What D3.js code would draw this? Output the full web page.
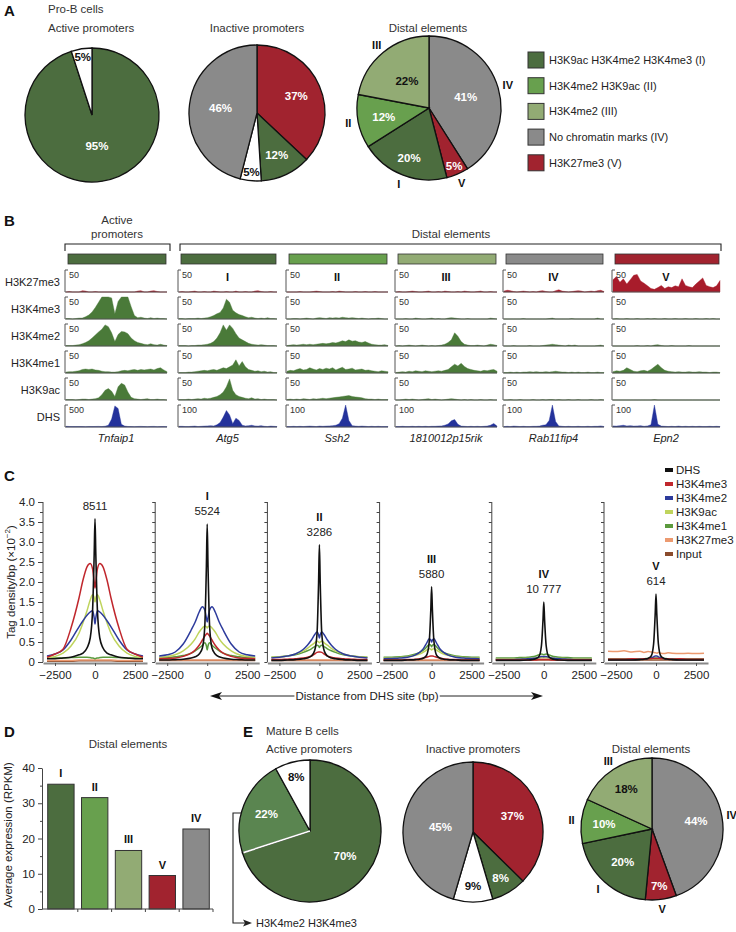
<!DOCTYPE html>
<html><head><meta charset="utf-8">
<script src="https://cdn.jsdelivr.net/npm/d3@7/dist/d3.min.js"></script>
<style>
html,body{margin:0;padding:0;background:#fff;}
svg{display:block;font-family:"Liberation Sans",Arial,Helvetica,sans-serif;}
</style></head><body>
<svg id="fig" width="736" height="932"></svg>
<script>
// ================= DATA =================
// Panels A and E: pie charts
const legendKeys = ["I","II","III","IV","V"];
const legendLabels = ["H3K9ac H3K4me2 H3K4me3 (I)","H3K4me2 H3K9ac (II)","H3K4me2 (III)","No chromatin marks (IV)","H3K27me3 (V)"];
const proBActiveKeys = ["I","none"];
const proBActiveValues = [95,5];
const proBInactiveKeys = ["V","I","none","IV"];
const proBInactiveValues = [37,12,5,46];
const proBDistalKeys = ["IV","V","I","II","III"];
const proBDistalValues = [41,5,20,12,22];
const matureActiveKeys = ["I","Ib","none"];
const matureActiveValues = [70,22,8];
const matureInactiveKeys = ["V","I","none","IV"];
const matureInactiveValues = [37,8,9,45];
const matureDistalKeys = ["IV","V","I","II","III"];
const matureDistalValues = [44,7,20,10,18];

// Panel B: genome browser tracks (tags per bin), rows in trackRows order
const trackRows = ["H3K27me3","H3K4me3","H3K4me2","H3K4me1","H3K9ac","DHS"];
const trackGenes = ["Tnfaip1","Atg5","Ssh2","1810012p15rik","Rab11fip4","Epn2"];
const trackGroups = ["I","I","II","III","IV","V"];
const trackRomans = ["","I","II","III","IV","V"];
const trackScaleHistone = [50,50,50,50,50,50];
const trackScaleDHS = [500,100,100,100,100,100];
const tnfaip1Tracks = [
 [0,1,0,0,0,3,2,0,0,1,0,0,0,0,0,0,0,0,0,0,0,0,2,3,0,0,2,3,1,0,0,0],
 [1,1,0,1,2,2,5,9,16,26,38,50,50,50,48,12,40,50,50,50,28,8,3,4,2,1,3,1,2,1,1,0],
 [1,1,1,2,3,5,8,12,18,25,32,38,48,44,30,10,26,33,32,28,18,12,8,6,4,3,5,3,2,4,2,1],
 [2,3,3,4,5,8,9,8,9,7,6,4,3,3,2,2,3,5,6,5,7,8,6,8,7,8,9,7,10,12,7,3],
 [1,1,1,0,1,2,2,1,2,3,5,12,22,26,20,8,30,38,34,18,6,3,2,1,2,3,1,1,2,1,1,0],
 [15,12,10,10,12,10,8,12,10,12,14,10,18,40,180,480,420,60,20,12,10,8,12,14,10,8,12,14,8,10,12,8]
];
const atg5Tracks = [
 [0,1,0,0,1,2,0,0,1,0,0,2,1,0,0,1,0,0,2,0,0,1,0,0,2,3,1,0,0,1,0,0],
 [1,1,0,1,1,1,2,1,2,3,5,8,12,15,25,45,38,20,14,10,8,5,3,4,2,1,2,1,3,1,1,0],
 [1,1,1,0,1,1,2,2,3,4,6,10,18,30,48,36,48,40,28,18,14,10,6,4,3,2,3,2,1,1,1,0],
 [1,1,1,2,2,3,4,5,6,5,7,8,6,9,12,10,14,18,30,16,26,14,8,6,4,5,3,4,2,3,1,1],
 [1,1,1,2,1,2,3,2,4,3,4,6,8,12,18,30,48,22,12,8,6,4,3,5,2,3,1,2,1,1,1,0],
 [3,3,2,2,3,4,2,3,4,5,6,5,10,20,45,75,55,15,40,30,8,5,6,8,5,4,6,3,2,4,3,2]
];
const ssh2Tracks = [
 [0,0,0,0,1,0,0,0,1,2,1,0,0,0,1,0,2,1,0,0,0,1,0,0,1,0,0,1,0,0,0,0],
 [0,0,1,1,0,1,2,1,0,2,3,2,1,3,2,3,2,4,3,2,3,2,1,2,1,0,1,1,2,1,0,0],
 [1,2,3,2,3,4,3,4,3,4,5,6,5,6,8,7,9,12,10,14,11,12,9,8,10,7,4,3,2,2,3,1],
 [4,6,5,8,10,7,8,12,9,7,10,8,11,9,12,7,10,13,8,9,11,7,8,9,6,7,5,4,3,5,4,3],
 [1,2,1,2,1,3,2,1,3,2,3,4,3,4,5,6,7,8,9,10,8,7,6,5,3,2,2,1,2,1,1,1],
 [2,2,3,2,3,2,3,4,3,2,4,3,4,5,6,8,15,40,100,30,6,4,3,4,3,2,3,2,3,2,2,2]
];
const rikTracks = [
 [0,1,0,0,1,2,1,0,0,1,2,0,0,1,0,2,1,0,0,1,0,2,1,0,0,1,2,0,0,1,0,0],
 [0,0,0,1,0,0,2,1,0,0,1,2,0,1,0,0,2,3,2,1,0,0,1,0,0,0,0,0,0,2,1,0],
 [0,1,0,1,2,1,0,1,2,1,0,1,0,1,2,4,8,14,30,22,10,4,2,1,1,2,1,0,2,4,3,1],
 [1,2,3,2,4,3,5,4,3,5,4,3,4,5,4,6,8,14,20,16,22,15,10,8,6,5,4,6,5,7,8,4],
 [0,0,1,2,1,2,1,0,1,2,3,1,2,1,0,1,2,3,2,1,0,1,0,1,0,0,1,0,0,1,0,0],
 [2,2,3,2,2,3,2,3,2,3,2,3,3,4,5,8,14,28,34,12,4,3,2,3,2,3,2,3,4,8,16,4]
];
const rab11fip4Tracks = [
 [2,4,3,1,0,1,2,1,0,1,0,2,3,1,0,0,3,5,2,1,0,1,2,3,2,0,1,2,1,3,4,1],
 [0,0,0,0,0,0,1,0,0,0,0,0,0,0,1,2,0,0,0,0,0,1,0,0,0,0,0,0,0,2,0,0],
 [0,0,0,1,0,0,0,0,1,0,0,0,1,2,3,4,3,2,1,0,2,1,2,0,0,0,0,0,0,1,2,0],
 [1,1,2,1,2,1,2,2,3,2,3,2,2,3,2,3,4,3,2,2,1,2,1,2,1,1,2,1,1,2,1,1],
 [0,0,1,0,0,1,0,0,0,1,0,0,1,0,1,1,0,1,0,0,1,0,0,1,0,0,0,1,0,0,1,0],
 [2,3,2,4,3,2,3,2,2,3,3,4,8,10,30,100,25,5,3,2,3,2,2,3,2,2,3,2,3,3,5,2]
];
const epn2Tracks = [
 [28,35,22,30,18,28,38,40,25,20,14,8,6,10,15,8,12,10,14,12,30,15,12,10,18,25,32,15,12,10,14,26],
 [0,1,0,0,1,0,0,1,0,0,1,0,1,0,0,1,0,0,1,0,0,1,0,0,1,0,0,1,0,1,0,0],
 [0,0,0,0,0,0,0,1,0,0,1,0,2,3,1,0,0,1,0,0,0,0,1,0,0,0,0,0,0,0,0,0],
 [3,5,4,6,12,8,4,3,5,6,4,8,14,20,12,6,4,3,2,3,2,2,3,2,2,3,2,2,1,2,2,1],
 [0,0,0,0,0,0,0,0,0,0,0,0,1,0,0,0,0,0,0,0,0,0,0,0,0,0,0,0,0,0,0,0],
 [5,4,6,8,5,6,4,5,6,3,5,10,100,12,4,3,2,3,2,4,2,3,2,3,2,3,2,2,3,2,3,2]
];

// Panel C: aggregate tag density profiles (x10^-2 per bp), series order = profileSeries
const profilePositions = [-3000,-2500,-2000,-1500,-1000,-750,-500,-300,-150,-50,0,50,150,300,500,750,1000,1500,2000,2500,3000];
const profileSeries = ["DHS","H3K4me3","H3K4me2","H3K9ac","H3K4me1","H3K27me3","Input"];
const profileGroups = ["","I","II","III","IV","V"];
const profileCounts = ["8511","5524","3286","5880","10 777","614"];
const profActive = [
 [0.08,0.08,0.10,0.12,0.18,0.22,0.35,0.60,1.30,2.70,3.58,2.70,1.30,0.60,0.35,0.22,0.18,0.12,0.10,0.08,0.08],
 [0.12,0.20,0.32,0.85,1.60,2.05,2.38,2.46,2.32,2.00,1.85,2.00,2.32,2.46,2.38,2.05,1.60,0.85,0.32,0.20,0.12],
 [0.15,0.20,0.30,0.55,0.88,1.03,1.17,1.25,1.28,1.10,0.95,1.10,1.28,1.25,1.17,1.03,0.88,0.55,0.30,0.20,0.15],
 [0.10,0.14,0.22,0.40,0.72,0.98,1.28,1.55,1.68,1.60,1.50,1.60,1.68,1.55,1.28,0.98,0.72,0.40,0.22,0.14,0.10],
 [0.10,0.10,0.10,0.11,0.12,0.12,0.12,0.11,0.10,0.09,0.08,0.09,0.10,0.11,0.12,0.12,0.12,0.11,0.10,0.10,0.10],
 [0.04,0.04,0.04,0.04,0.05,0.05,0.05,0.05,0.05,0.05,0.05,0.05,0.05,0.05,0.05,0.05,0.05,0.04,0.04,0.04,0.04],
 [0.02,0.02,0.02,0.02,0.03,0.03,0.03,0.03,0.03,0.03,0.03,0.03,0.03,0.03,0.03,0.03,0.03,0.02,0.02,0.02,0.02]
];
const profI = [
 [0.05,0.05,0.06,0.07,0.10,0.13,0.20,0.35,0.90,2.40,3.45,2.40,0.90,0.35,0.20,0.13,0.10,0.07,0.06,0.05,0.05],
 [0.08,0.09,0.10,0.14,0.22,0.30,0.42,0.55,0.65,0.70,0.72,0.70,0.65,0.55,0.42,0.30,0.22,0.14,0.10,0.09,0.08],
 [0.15,0.18,0.25,0.45,0.80,1.00,1.25,1.38,1.30,1.10,1.00,1.10,1.30,1.38,1.25,1.00,0.80,0.45,0.25,0.18,0.15],
 [0.12,0.14,0.18,0.28,0.45,0.58,0.75,0.85,0.90,0.88,0.85,0.88,0.90,0.85,0.75,0.58,0.45,0.28,0.18,0.14,0.12],
 [0.10,0.11,0.13,0.16,0.22,0.28,0.35,0.42,0.48,0.40,0.30,0.40,0.48,0.42,0.35,0.28,0.22,0.16,0.13,0.11,0.10],
 [0.05,0.05,0.05,0.05,0.05,0.05,0.05,0.05,0.05,0.05,0.05,0.05,0.05,0.05,0.05,0.05,0.05,0.05,0.05,0.05,0.05],
 [0.04,0.04,0.04,0.04,0.04,0.04,0.04,0.04,0.04,0.04,0.04,0.04,0.04,0.04,0.04,0.04,0.04,0.04,0.04,0.04,0.04]
];
const profII = [
 [0.04,0.04,0.05,0.06,0.08,0.10,0.15,0.28,0.70,2.00,2.93,2.00,0.70,0.28,0.15,0.10,0.08,0.06,0.05,0.04,0.04],
 [0.06,0.06,0.07,0.08,0.10,0.12,0.15,0.20,0.24,0.25,0.25,0.25,0.24,0.20,0.15,0.12,0.10,0.08,0.07,0.06,0.06],
 [0.10,0.12,0.15,0.20,0.32,0.42,0.55,0.68,0.75,0.68,0.60,0.68,0.75,0.68,0.55,0.42,0.32,0.20,0.15,0.12,0.10],
 [0.12,0.13,0.15,0.20,0.28,0.34,0.42,0.48,0.52,0.50,0.48,0.50,0.52,0.48,0.42,0.34,0.28,0.20,0.15,0.13,0.12],
 [0.12,0.13,0.15,0.18,0.24,0.28,0.33,0.38,0.42,0.40,0.36,0.40,0.42,0.38,0.33,0.28,0.24,0.18,0.15,0.13,0.12],
 [0.05,0.05,0.05,0.05,0.05,0.05,0.05,0.05,0.05,0.05,0.05,0.05,0.05,0.05,0.05,0.05,0.05,0.05,0.05,0.05,0.05],
 [0.04,0.04,0.04,0.04,0.04,0.04,0.04,0.04,0.04,0.04,0.04,0.04,0.04,0.04,0.04,0.04,0.04,0.04,0.04,0.04,0.04]
];
const profIII = [
 [0.04,0.04,0.04,0.05,0.06,0.07,0.10,0.18,0.50,1.30,1.88,1.30,0.50,0.18,0.10,0.07,0.06,0.05,0.04,0.04,0.04],
 [0.05,0.05,0.05,0.06,0.07,0.08,0.10,0.12,0.14,0.15,0.15,0.15,0.14,0.12,0.10,0.08,0.07,0.06,0.05,0.05,0.05],
 [0.08,0.09,0.10,0.12,0.18,0.24,0.34,0.48,0.58,0.55,0.50,0.55,0.58,0.48,0.34,0.24,0.18,0.12,0.10,0.09,0.08],
 [0.10,0.10,0.11,0.13,0.17,0.20,0.25,0.30,0.33,0.32,0.30,0.32,0.33,0.30,0.25,0.20,0.17,0.13,0.11,0.10,0.10],
 [0.12,0.12,0.13,0.15,0.20,0.24,0.30,0.38,0.44,0.42,0.38,0.42,0.44,0.38,0.30,0.24,0.20,0.15,0.13,0.12,0.12],
 [0.05,0.05,0.05,0.05,0.05,0.05,0.05,0.05,0.05,0.05,0.05,0.05,0.05,0.05,0.05,0.05,0.05,0.05,0.05,0.05,0.05],
 [0.04,0.04,0.04,0.04,0.04,0.04,0.04,0.04,0.04,0.04,0.04,0.04,0.04,0.04,0.04,0.04,0.04,0.04,0.04,0.04,0.04]
];
const profIV = [
 [0.04,0.04,0.04,0.04,0.05,0.06,0.08,0.14,0.40,1.05,1.50,1.05,0.40,0.14,0.08,0.06,0.05,0.04,0.04,0.04,0.04],
 [0.05,0.05,0.05,0.05,0.05,0.05,0.05,0.06,0.06,0.06,0.06,0.06,0.06,0.06,0.05,0.05,0.05,0.05,0.05,0.05,0.05],
 [0.06,0.06,0.06,0.07,0.08,0.09,0.10,0.12,0.14,0.14,0.13,0.14,0.14,0.12,0.10,0.09,0.08,0.07,0.06,0.06,0.06],
 [0.08,0.08,0.08,0.08,0.09,0.09,0.10,0.10,0.11,0.11,0.11,0.11,0.11,0.10,0.10,0.09,0.09,0.08,0.08,0.08,0.08],
 [0.10,0.10,0.10,0.11,0.12,0.13,0.15,0.18,0.20,0.19,0.18,0.19,0.20,0.18,0.15,0.13,0.12,0.11,0.10,0.10,0.10],
 [0.06,0.06,0.06,0.06,0.06,0.06,0.06,0.06,0.06,0.06,0.06,0.06,0.06,0.06,0.06,0.06,0.06,0.06,0.06,0.06,0.06],
 [0.05,0.05,0.05,0.05,0.05,0.05,0.05,0.05,0.05,0.05,0.05,0.05,0.05,0.05,0.05,0.05,0.05,0.05,0.05,0.05,0.05]
];
const profV = [
 [0.05,0.05,0.05,0.05,0.06,0.07,0.09,0.15,0.45,1.20,1.70,1.20,0.45,0.15,0.09,0.07,0.06,0.05,0.05,0.05,0.05],
 [0.07,0.07,0.07,0.08,0.07,0.08,0.08,0.08,0.09,0.09,0.09,0.09,0.09,0.08,0.08,0.08,0.07,0.08,0.07,0.07,0.07],
 [0.06,0.06,0.06,0.06,0.07,0.07,0.08,0.10,0.13,0.15,0.15,0.15,0.13,0.10,0.08,0.07,0.07,0.06,0.06,0.06,0.06],
 [0.07,0.07,0.07,0.07,0.07,0.07,0.07,0.08,0.08,0.08,0.08,0.08,0.08,0.08,0.07,0.07,0.07,0.07,0.07,0.07,0.07],
 [0.08,0.08,0.08,0.08,0.08,0.08,0.09,0.09,0.10,0.10,0.10,0.10,0.10,0.09,0.09,0.08,0.08,0.08,0.08,0.08,0.08],
 [0.27,0.26,0.28,0.25,0.27,0.24,0.26,0.25,0.24,0.23,0.23,0.22,0.24,0.22,0.21,0.23,0.22,0.21,0.22,0.21,0.22],
 [0.05,0.05,0.05,0.05,0.05,0.05,0.05,0.05,0.05,0.05,0.05,0.05,0.05,0.05,0.05,0.05,0.05,0.05,0.05,0.05,0.05]
];
const profileXTicks = [-2500,0,2500];
const profileYTicks = [0,0.5,1,1.5,2,2.5,3,3.5,4];

// Panel D: average expression
const dCategories = ["I","II","III","V","IV"];
const dValues = [35.4,31.6,16.6,9.5,22.7];
const dYTicks = [0,10,20,30,40];

// ================= STYLE =================
const col = {I:"#4c6d3f", Ib:"#5a8550", II:"#68a04e", III:"#92ab74", IV:"#8a8a8a", V:"#a1232f", none:"#ffffff"};
const seriesColor = {DHS:"#111111", H3K4me3:"#c0272d", H3K4me2:"#2d3b9c", H3K9ac:"#bfd45c", H3K4me1:"#5b9a3e", H3K27me3:"#ec9a70", Input:"#8a4b2c"};
const trackColor = {histone:"#4a7a39", H3K27me3:"#a81c2b", DHS:"#24329b"};
const ink = "#222";

const svg = d3.select("#fig");

function txt(g, x, y, s, o = {}) {
  const t = g.append("text").attr("x", x).attr("y", y).text(s)
    .attr("font-size", o.size || 11.5).attr("fill", o.fill || ink)
    .attr("text-anchor", o.anchor || "start");
  if (o.bold) t.attr("font-weight", "bold");
  if (o.italic) t.attr("font-style", "italic");
  if (o.mid) t.attr("dominant-baseline", "central");
  return t;
}

// ================= PANEL LETTERS =================
[["A",4,16],["B",4,226],["C",4,481],["D",4,737],["E",243,737]].forEach(([l,x,y]) =>
  txt(svg, x, y, l, {size: 15, bold: true, fill: "#111"}));

// ================= PIES =================
function drawPie(p) {
  const data = p.keys.map((k, i) => ({k, v: p.values[i], f: p.lf[i]}));
  const arcs = d3.pie().sort(null).value(d => d.v)(data);
  const arc = d3.arc().innerRadius(0).outerRadius(p.r);
  const g = svg.append("g").attr("transform", `translate(${p.cx},${p.cy})`);
  g.selectAll("path").data(arcs).join("path").attr("d", arc)
    .attr("fill", d => col[d.data.k]).attr("stroke", "#111").attr("stroke-width", 1.3);
  if (p.whiteSplit) {
    const a = arcs[0].endAngle;
    g.append("line").attr("x1", 0).attr("y1", 0)
      .attr("x2", Math.sin(a) * (p.r - 1)).attr("y2", -Math.cos(a) * (p.r - 1))
      .attr("stroke", "#fff").attr("stroke-width", 1.6);
  }
  arcs.forEach(d => {
    const a = (d.startAngle + d.endAngle) / 2;
    const dark = d.data.k === "none" || d.data.k === "III";
    txt(g, Math.sin(a) * p.r * d.data.f, -Math.cos(a) * p.r * d.data.f, d.data.v + "%",
      {size: 11.5, bold: true, anchor: "middle", mid: true, fill: dark ? "#111" : "#fff"});
    if (p.roman) {
      const rr = p.r * 1.14;
      txt(g, Math.sin(a) * rr, -Math.cos(a) * rr, d.data.k, {size: 11, bold: true, anchor: "middle", mid: true, fill: "#111"});
    }
  });
  txt(svg, p.tx, p.ty, p.title, {size: 11.5, anchor: p.anchor, fill: "#333"});
}

txt(svg, 48, 13, "Pro-B cells", {size: 11.5, fill: "#333"});
txt(svg, 266, 735, "Mature B cells", {size: 11.5, fill: "#333"});

[
  {keys: proBActiveKeys, values: proBActiveValues, cx: 92, cy: 115, r: 67, lf: [0.47, 0.88], title: "Active promoters", tx: 48, ty: 32, anchor: "start"},
  {keys: proBInactiveKeys, values: proBInactiveValues, cx: 257, cy: 113, r: 68, lf: [0.63, 0.68, 0.87, 0.54], title: "Inactive promoters", tx: 257, ty: 32, anchor: "middle"},
  {keys: proBDistalKeys, values: proBDistalValues, cx: 429, cy: 108, r: 72, lf: [0.53, 0.88, 0.75, 0.64, 0.48], title: "Distal elements", tx: 428, ty: 32, anchor: "middle", roman: true},
  {keys: matureActiveKeys, values: matureActiveValues, cx: 310, cy: 831, r: 71, lf: [0.61, 0.66, 0.78], title: "Active promoters", tx: 266, ty: 753, anchor: "start", whiteSplit: true},
  {keys: matureInactiveKeys, values: matureInactiveValues, cx: 473, cy: 832, r: 70, lf: [0.61, 0.77, 0.77, 0.47], title: "Inactive promoters", tx: 473, ty: 753, anchor: "middle"},
  {keys: matureDistalKeys, values: matureDistalValues, cx: 652, cy: 829, r: 71, lf: [0.63, 0.81, 0.62, 0.68, 0.67], title: "Distal elements", tx: 651, ty: 753, anchor: "middle", roman: true}
].forEach(drawPie);

// legend A
const legA = svg.append("g");
legendKeys.forEach((k, i) => {
  const y = 52 + i * 25.7;
  legA.append("rect").attr("x", 528).attr("y", y).attr("width", 16).attr("height", 16)
    .attr("fill", col[k]).attr("stroke", "#333").attr("stroke-width", 1);
  txt(legA, 549, y + 8, legendLabels[i], {size: 11, mid: true, fill: "#222"});
});

// E active bracket
(function(){
  const cx = 310, cy = 831, r = 71;
  const yTop = cy - 18, yBot = 923, xB = cx - r - 6;
  const xEdge = cx - Math.sqrt(r * r - 18 * 18);
  svg.append("path").attr("d", `M${xEdge},${yTop}H${xB}V${yBot}H${xB + 14}`)
    .attr("fill", "none").attr("stroke", "#222").attr("stroke-width", 1.1);
  svg.append("path").attr("d", `M${xB + 19},${yBot}L${xB + 10},${yBot - 3.5}L${xB + 12},${yBot}L${xB + 10},${yBot + 3.5}Z`).attr("fill", "#222");
  txt(svg, xB + 23, yBot, "H3K4me2 H3K4me3", {size: 11, mid: true, fill: "#222"});
})();

// ================= PANEL B =================
const trackSets = [tnfaip1Tracks, atg5Tracks, ssh2Tracks, rikTracks, rab11fip4Tracks, epn2Tracks];
const colX = [65, 178, 286, 395, 503, 612];
const colW = [102, 99, 102, 102, 101, 108];
const rowBase = [292, 319, 346, 373, 400, 427];
const trackH = 22;
const gB = svg.append("g");

txt(gB, 117, 224, "Active", {size: 11.5, anchor: "middle", fill: "#333"});
txt(gB, 117, 238, "promoters", {size: 11.5, anchor: "middle", fill: "#333"});
txt(gB, 451, 238, "Distal elements", {size: 11.5, anchor: "middle", fill: "#333"});
gB.append("path").attr("d", "M65,251V244H170V251").attr("fill", "none").attr("stroke", "#222").attr("stroke-width", 1.1);
gB.append("path").attr("d", "M180,251V244H721V251").attr("fill", "none").attr("stroke", "#222").attr("stroke-width", 1.1);

trackRows.forEach((r, ri) => txt(gB, 60, rowBase[ri] - 10, r, {size: 11, anchor: "end", mid: true, fill: "#222"}));

trackSets.forEach((set, ci) => {
  const x0 = colX[ci], w = colW[ci];
  gB.append("rect").attr("x", x0 + 3).attr("y", 254).attr("width", w - 4).attr("height", 10)
    .attr("fill", col[trackGroups[ci]]).attr("stroke", "#333").attr("stroke-width", 0.8);
  const x = d3.scaleLinear().domain([0, set[0].length - 1]).range([x0 + 1, x0 + w]);
  set.forEach((vals, ri) => {
    const base = rowBase[ri];
    const max = ri === 5 ? trackScaleDHS[ci] : trackScaleHistone[ci];
    const y = d3.scaleLinear().domain([0, max]).range([base, base - trackH]).clamp(true);
    const color = ri === 0 ? trackColor.H3K27me3 : (ri === 5 ? trackColor.DHS : trackColor.histone);
    gB.append("path").datum(vals)
      .attr("d", d3.area().x((d, i) => x(i)).y0(base).y1(d => y(d)).curve(d3.curveLinear))
      .attr("fill", color).attr("stroke", color).attr("stroke-width", 0.4);
    gB.append("path").attr("d", `M${x0 + 3},${base - trackH}H${x0}V${base}H${x0 + w}`)
      .attr("fill", "none").attr("stroke", "#555").attr("stroke-width", 1);
    txt(gB, x0 + 4, base - trackH + 5, String(max), {size: 9, mid: true, fill: "#333"});
  });
  if (trackRomans[ci]) txt(gB, x0 + w / 2, rowBase[0] - 15, trackRomans[ci], {size: 11, bold: true, anchor: "middle", mid: true, fill: "#111"});
  txt(gB, x0 + w / 2, 442, trackGenes[ci], {size: 11, italic: true, anchor: "middle", fill: "#222"});
});

// ================= PANEL C =================
const profSets = [profActive, profI, profII, profIII, profIV, profV];
const gC = svg.append("g");
const yC = d3.scaleLinear().domain([0, 4]).range([662, 502]);
const drawOrder = ["Input", "H3K27me3", "H3K4me1", "H3K9ac", "H3K4me2", "H3K4me3", "DHS"];
profSets.forEach((set, pi) => {
  const x0 = 43 + pi * 112.2;
  const x = d3.scaleLinear().domain([-3250, 3250]).range([x0, x0 + 104]);
  const yAx = gC.append("g").attr("transform", `translate(${x0},0)`)
    .call(d3.axisLeft(yC).tickValues(d3.range(0, 4.01, 0.25)).tickSize(3).tickFormat(""));
  yAx.select(".domain").attr("stroke", "#444").attr("d", `M0,${yC(4)}V${yC(0)}`);
  yAx.selectAll(".tick line").attr("stroke", "#444");
  if (pi === 0) {
    const lab = gC.append("g").attr("transform", `translate(${x0},0)`)
      .call(d3.axisLeft(yC).tickValues(profileYTicks).tickSize(5).tickFormat(d => d === 0 ? "0" : d.toFixed(1)));
    lab.select(".domain").remove();
    lab.selectAll(".tick line").attr("stroke", "#444");
    lab.selectAll("text").attr("font-size", 11.5).attr("fill", "#222").attr("font-family", null);
  }
  drawOrder.forEach(s => {
    const si = profileSeries.indexOf(s);
    gC.append("path").datum(set[si])
      .attr("d", d3.line().x((d, i) => x(profilePositions[i])).y(d => yC(d)).curve(d3.curveMonotoneX))
      .attr("fill", "none").attr("stroke", seriesColor[s]).attr("stroke-width", s === "DHS" ? 1.6 : 1.5);
  });
  const xAx = gC.append("g").attr("transform", `translate(0,663)`)
    .call(d3.axisBottom(x).tickValues(profileXTicks).tickSize(3).tickSizeOuter(0).tickFormat(d3.format("d")));
  xAx.select(".domain").attr("stroke", "#888").attr("stroke-width", 2);
  xAx.selectAll(".tick line").attr("stroke", "#555");
  xAx.selectAll("text").attr("font-size", 11.5).attr("fill", "#222").attr("font-family", null).attr("dy", "0.9em");
  const peak = d3.max(set[0]);
  const cx = x(0);
  txt(gC, cx, yC(peak) - 9, profileCounts[pi], {size: 11.5, anchor: "middle", fill: "#222"});
  if (profileGroups[pi]) txt(gC, cx, yC(peak) - 24, profileGroups[pi], {size: 11, bold: true, anchor: "middle", fill: "#111"});
});
const yl = gC.append("text").attr("transform", "translate(15,582) rotate(-90)").attr("text-anchor", "middle")
  .attr("font-size", 11.5).attr("fill", "#222");
yl.append("tspan").text("Tag density/bp (\u00d710");
yl.append("tspan").text("\u22122").attr("font-size", 8).attr("dy", -5);
yl.append("tspan").text(")").attr("dy", 5);
profileSeries.forEach((s, i) => {
  const y = 470 + i * 14;
  gC.append("rect").attr("x", 665).attr("y", y - 2).attr("width", 8).attr("height", 4).attr("fill", seriesColor[s]);
  txt(gC, 676, y, s, {size: 11.5, mid: true, fill: "#222"});
});
(function(){
  const y = 696;
  const t = txt(gC, 367, y, "Distance from DHS site (bp)", {size: 11.5, anchor: "middle", mid: true, fill: "#222"});
  const bb = t.node().getBBox();
  gC.append("line").attr("x1", 218).attr("x2", bb.x - 1).attr("y1", y).attr("y2", y).attr("stroke", "#222");
  gC.append("line").attr("x1", bb.x + bb.width + 1).attr("x2", 535).attr("y1", y).attr("y2", y).attr("stroke", "#222");
  gC.append("path").attr("d", `M210,${y}L222,${y - 4}L219,${y}L222,${y + 4}Z`).attr("fill", "#111");
  gC.append("path").attr("d", `M543,${y}L531,${y - 4}L534,${y}L531,${y + 4}Z`).attr("fill", "#111");
})();

// ================= PANEL D =================
const gD = svg.append("g");
const xD = d3.scaleBand().domain(dCategories).range([44, 213]).paddingInner(0.22).paddingOuter(0.11);
const yD = d3.scaleLinear().domain([0, 40]).range([909, 768]);
txt(gD, 128, 748, "Distal elements", {size: 11.5, anchor: "middle", fill: "#333"});
const dAx = gD.append("g").attr("transform", "translate(42,0)")
  .call(d3.axisLeft(yD).tickValues(dYTicks).tickSize(4).tickSizeOuter(0));
dAx.select(".domain").attr("stroke", "#444");
dAx.selectAll(".tick line").attr("stroke", "#444");
dAx.selectAll("text").attr("font-size", 11.5).attr("fill", "#222").attr("font-family", null);
gD.append("g").attr("transform", "translate(42,0)")
  .call(d3.axisLeft(yD).tickValues([5, 15, 25, 35]).tickSize(2).tickFormat(""))
  .call(g => { g.select(".domain").remove(); g.selectAll("line").attr("stroke", "#444"); });
gD.selectAll("rect.bar").data(dCategories).join("rect").attr("class", "bar")
  .attr("x", d => xD(d)).attr("width", xD.bandwidth())
  .attr("y", (d, i) => yD(dValues[i])).attr("height", (d, i) => yD(0) - yD(dValues[i]))
  .attr("fill", d => col[d]).attr("stroke", "#333").attr("stroke-width", 1);
dCategories.forEach((d, i) => txt(gD, xD(d) + xD.bandwidth() / 2, yD(dValues[i]) - 7, d, {size: 11, bold: true, anchor: "middle", fill: "#111"}));
gD.append("line").attr("x1", 42).attr("x2", 213).attr("y1", 909).attr("y2", 909).attr("stroke", "#444");
dCategories.forEach(d => {
  const tx = xD(d) + xD.bandwidth() / 2 + xD.step() / 2;
  gD.append("line").attr("x1", tx).attr("x2", tx).attr("y1", 909).attr("y2", 912).attr("stroke", "#444");
});
gD.append("text").attr("transform", "translate(12,835) rotate(-90)").attr("text-anchor", "middle")
  .attr("font-size", 11.5).attr("fill", "#222").text("Average expression (RPKM)");
</script></body></html>
